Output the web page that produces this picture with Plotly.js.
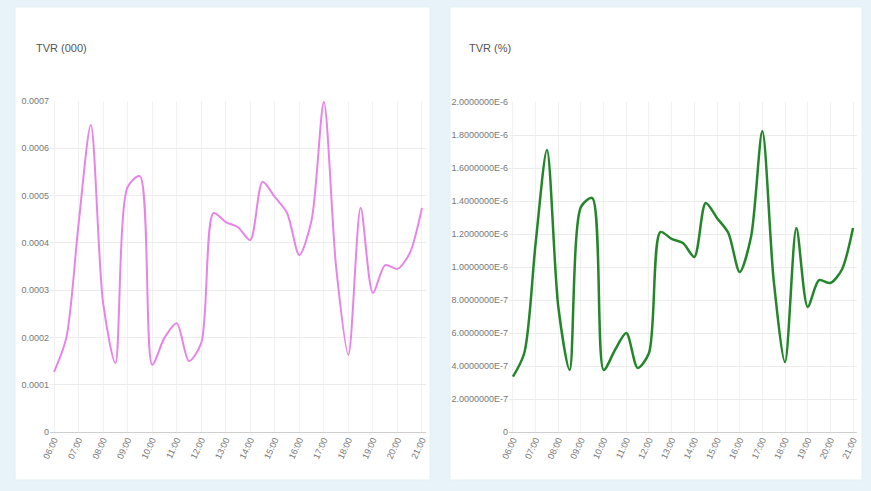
<!DOCTYPE html>
<html>
<head>
<meta charset="utf-8">
<script src="https://cdn.plot.ly/plotly-3.0.1.min.js"></script>
<style>
  html, body { margin: 0; padding: 0; background: #e7f3f9; }
  #chart { width: 871px; height: 491px; }
</style>
</head>
<body>
<div id="chart"></div>
<script>
// Tick labels (every other data point is labelled)
const tickLabels = ["06:00","07:00","08:00","09:00","10:00","11:00","12:00","13:00",
                    "14:00","15:00","16:00","17:00","18:00","19:00","20:00","21:00"];

// TVR (000) series, 31 points
const tvrThousands = [0.000127,0.000199,0.000440,0.000649,0.000273,0.000146,0.000518,0.000541,
                      0.000142,0.000199,0.000230,0.000150,0.000188,0.000463,0.000444,0.000433,
                      0.000406,0.000529,0.000497,0.000463,0.000374,0.000448,0.000698,0.000349,
                      0.000163,0.000474,0.000294,0.000353,0.000345,0.000378,0.000474];

// TVR (%) series, 31 points
const tvrPercent = [3.35e-7,4.79e-7,1.145e-6,1.709e-6,7.58e-7,3.76e-7,1.364e-6,1.418e-6,
                    3.76e-7,4.97e-7,6.0e-7,3.88e-7,4.79e-7,1.212e-6,1.17e-6,1.145e-6,
                    1.061e-6,1.388e-6,1.297e-6,1.206e-6,9.7e-7,1.182e-6,1.824e-6,9.2e-7,
                    4.24e-7,1.236e-6,7.58e-7,9.2e-7,9.03e-7,9.82e-7,1.236e-6];

// Y tick labels
const leftTickVals = [0,0.0001,0.0002,0.0003,0.0004,0.0005,0.0006,0.0007];
const leftTickText = ["0","0.0001","0.0002","0.0003","0.0004","0.0005","0.0006","0.0007"];
const rightTickVals = [0,2e-7,4e-7,6e-7,8e-7,1e-6,1.2e-6,1.4e-6,1.6e-6,1.8e-6,2e-6];
const rightTickText = ["0","2.0000000E-7","4.0000000E-7","6.0000000E-7","8.0000000E-7",
                       "1.0000000E-6","1.2000000E-6","1.4000000E-6","1.6000000E-6",
                       "1.8000000E-6","2.0000000E-6"];

const W = 871, H = 491;
const px = v => v / W;
const py = v => 1 - v / H;

const xIdx = tvrThousands.map((_, i) => i);
const xTickVals = tickLabels.map((_, i) => i * 2);

const traces = [
  { x: xIdx, y: tvrThousands, type: 'scatter', mode: 'lines',
    line: { color: '#e884e8', width: 2, shape: 'spline', smoothing: 0.8 },
    xaxis: 'x', yaxis: 'y', cliponaxis: false, hoverinfo: 'y' },
  { x: xIdx, y: tvrPercent, type: 'scatter', mode: 'lines',
    line: { color: '#24862a', width: 2.5, shape: 'spline', smoothing: 0.8 },
    xaxis: 'x2', yaxis: 'y2', cliponaxis: false, hoverinfo: 'y' }
];

const tickFont = { family: 'Liberation Sans, Arial, sans-serif', size: 9, color: '#777' };

function xAxis(d0, d1, r0, r1, anchor) {
  return {
    domain: [px(d0), px(d1)], range: [r0, r1], anchor: anchor,
    tickmode: 'array', tickvals: xTickVals, ticktext: tickLabels,
    tickangle: -65, tickfont: tickFont,
    showgrid: true, gridcolor: '#f1f1f1', gridwidth: 1,
    zeroline: false, showline: false, ticks: '', automargin: false
  };
}
function yAxis(tv, tt, rmax, anchor) {
  return {
    domain: [py(432), py(rmax === 0.0007 ? 101 : 102)], range: [0, rmax], anchor: anchor,
    tickmode: 'array', tickvals: tv, ticktext: tt, tickfont: tickFont,
    showgrid: true, gridcolor: '#ececec', gridwidth: 1,
    zeroline: true, zerolinecolor: '#cfcfcf', zerolinewidth: 1,
    showline: false, ticks: '', ticklen: 3, automargin: false
  };
}

const layout = {
  width: W, height: H,
  margin: { l: 0, r: 0, t: 0, b: 0 },
  paper_bgcolor: '#e7f3f9',
  plot_bgcolor: 'rgba(0,0,0,0)',
  showlegend: false,
  xaxis: xAxis(50, 426, -0.33, 30.33, 'y'),
  yaxis: yAxis(leftTickVals, leftTickText, 0.0007, 'x'),
  xaxis2: xAxis(509, 857, -0.35, 30.35, 'y2'),
  yaxis2: yAxis(rightTickVals, rightTickText, 2e-6, 'x2'),
  shapes: [
    { type: 'rect', xref: 'paper', yref: 'paper', layer: 'below',
      x0: px(15), x1: px(430), y0: py(480), y1: py(7),
      fillcolor: '#ffffff', line: { color: '#e3f0ee', width: 1 } },
    { type: 'rect', xref: 'paper', yref: 'paper', layer: 'below',
      x0: px(450), x1: px(862), y0: py(480), y1: py(7),
      fillcolor: '#ffffff', line: { color: '#e3f0ee', width: 1 } }
  ],
  annotations: [
    { text: 'TVR (000)', xref: 'paper', yref: 'paper', x: px(34), y: py(48),
      xanchor: 'left', yanchor: 'middle', showarrow: false,
      font: { family: 'Liberation Sans, Arial, sans-serif', size: 11, color: '#555' } },
    { text: 'TVR (%)', xref: 'paper', yref: 'paper', x: px(467), y: py(48),
      xanchor: 'left', yanchor: 'middle', showarrow: false,
      font: { family: 'Liberation Sans, Arial, sans-serif', size: 11, color: '#555' } }
  ]
};

Plotly.newPlot('chart', traces, layout, { displayModeBar: false, staticPlot: true });
</script>
</body>
</html>
